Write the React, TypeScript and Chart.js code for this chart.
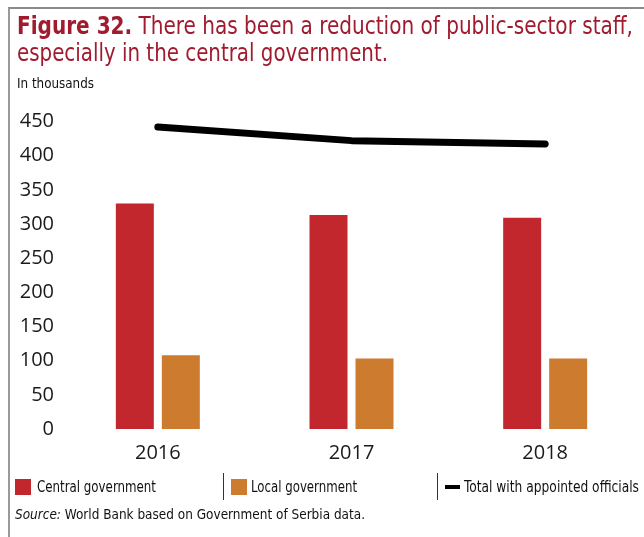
import React, { useEffect, useLayoutEffect, useRef } from "react";
import { Chart, registerables } from "chart.js";

Chart.register(...registerables);

const categories = ["2016", "2017", "2018"];
const centralGov = [330, 313, 309];
const localGov = [108, 103, 103];
const totalOfficials = [442, 422, 417];
const yTicksMax = 450;
const yTickStep = 50;

const TITLE_COLOR = "#a11b2f";
const RED = "#c1272d";
const ORANGE = "#cd7b2e";
const TEXT_FONT = "'Liberation Sans Narrow', 'DejaVu Sans Condensed', 'Noto Sans', sans-serif";
const TICK_FONT = "'Open Sans', 'Noto Sans', sans-serif";

function Fit({ w, style, children }: { w: number; style?: React.CSSProperties; children: React.ReactNode }) {
  const ref = useRef<HTMLSpanElement>(null);
  useLayoutEffect(() => {
    const el = ref.current;
    if (!el) return;
    el.style.transform = "none";
    const nat = el.getBoundingClientRect().width;
    if (nat > 0) el.style.transform = `scaleX(${w / nat})`;
  });
  return (
    <span
      ref={ref}
      style={{ display: "inline-block", whiteSpace: "nowrap", transformOrigin: "left center", ...style }}
    >
      {children}
    </span>
  );
}

export default function App() {
  const canvasRef = useRef<HTMLCanvasElement>(null);

  useEffect(() => {
    if (!canvasRef.current) return;
    const chart = new Chart(canvasRef.current, {
      type: "bar",
      data: {
        labels: categories,
        datasets: [
          {
            type: "line",
            label: "Total with appointed officials",
            data: totalOfficials,
            borderColor: "#000",
            backgroundColor: "#000",
            borderWidth: 7,
            pointRadius: 0,
            borderCapStyle: "round",
            borderJoinStyle: "round",
            tension: 0,
            order: 0,
          } as any,
          {
            type: "bar",
            label: "Central government",
            data: centralGov,
            backgroundColor: RED,
            categoryPercentage: 0.475,
            barPercentage: 0.826,
            order: 1,
          },
          {
            type: "bar",
            label: "Local government",
            data: localGov,
            backgroundColor: ORANGE,
            categoryPercentage: 0.475,
            barPercentage: 0.826,
            order: 1,
          },
        ],
      },
      options: {
        responsive: false,
        animation: false,
        devicePixelRatio: 1,
        layout: { padding: { left: 0, right: 2, top: 121.5, bottom: 68 } },
        plugins: { legend: { display: false }, tooltip: { enabled: false } },
        scales: {
          x: {
            grid: { display: false, drawTicks: false },
            border: { display: false },
            ticks: { font: { family: TICK_FONT, size: 20 }, color: "#1a1a1a", padding: 12 },
            afterFit: (axis: any) => {
              axis.height = 40;
            },
          },
          y: {
            min: 0,
            max: yTicksMax,
            grid: { display: false, drawTicks: false },
            border: { display: false },
            ticks: { stepSize: yTickStep, font: { family: TICK_FONT, size: 20 }, color: "#1a1a1a", padding: 7 },
            afterFit: (axis: any) => {
              axis.width = 61;
            },
          },
        },
      },
    });
    return () => chart.destroy();
  }, []);

  const abs = (o: React.CSSProperties): React.CSSProperties => ({ position: "absolute", ...o });

  return (
    <div
      style={{
        position: "fixed",
        left: 0,
        top: 0,
        width: 644,
        height: 537,
        background: "#fff",
        overflow: "hidden",
        fontFamily: TEXT_FONT,
      }}
    >
      <canvas ref={canvasRef} width={644} height={537} style={abs({ left: 0, top: 0, width: 644, height: 537 })} />
      <div
        style={abs({
          left: 8,
          top: 7,
          width: 640,
          height: 540,
          borderTop: "2px solid #8a8a8a",
          borderLeft: "2px solid #9a9a9a",
          boxSizing: "border-box",
        })}
      />
      <div style={abs({ left: 17, top: 12, fontSize: 25, lineHeight: "27px", color: TITLE_COLOR })}>
        <div>
          <Fit w={616}>
            <b>Figure 32.</b> There has been a reduction of public-sector staff,
          </Fit>
        </div>
        <div>
          <Fit w={371}>especially in the central government.</Fit>
        </div>
      </div>
      <div style={abs({ left: 17, top: 74, fontSize: 14, lineHeight: "18px", color: "#111" })}>
        <Fit w={77}>In thousands</Fit>
      </div>

      {/* legend */}
      <div style={abs({ left: 15, top: 479, width: 16, height: 16, background: RED })} />
      <div style={abs({ left: 37, top: 478, fontSize: 15, lineHeight: "18px", color: "#111" })}>
        <Fit w={119}>Central government</Fit>
      </div>
      <div style={abs({ left: 223, top: 473, width: 1, height: 27, background: "#333" })} />
      <div style={abs({ left: 231, top: 479, width: 16, height: 16, background: ORANGE })} />
      <div style={abs({ left: 251, top: 478, fontSize: 15, lineHeight: "18px", color: "#111" })}>
        <Fit w={106}>Local government</Fit>
      </div>
      <div style={abs({ left: 437, top: 473, width: 1, height: 27, background: "#333" })} />
      <div style={abs({ left: 445, top: 485, width: 15, height: 4, background: "#000" })} />
      <div style={abs({ left: 464, top: 478, fontSize: 15, lineHeight: "18px", color: "#111" })}>
        <Fit w={175}>Total with appointed officials</Fit>
      </div>
      <div style={abs({ left: 15, top: 505, fontSize: 14, lineHeight: "18px", color: "#111" })}>
        <Fit w={350}>
          <i>Source:</i> World Bank based on Government of Serbia data.
        </Fit>
      </div>
    </div>
  );
}
